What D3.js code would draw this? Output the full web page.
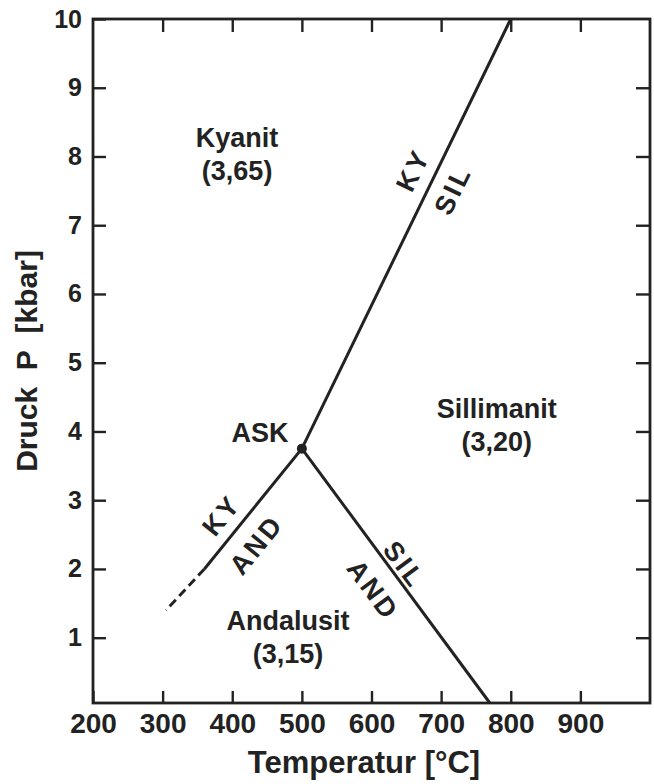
<!DOCTYPE html>
<html>
<head>
<meta charset="utf-8">
<script src="https://cdn.jsdelivr.net/npm/d3@7"></script>
<style>
  html, body { margin: 0; padding: 0; background: #fff; }
  svg { display: block; }
  text { font-family: "Liberation Sans", Arial, Helvetica, sans-serif; fill: #222; }
</style>
</head>
<body>
<svg id="chart" width="654" height="784"></svg>
<script>
// ---- data (temperature °C, pressure kbar) ----
const xTicks = [200, 300, 400, 500, 600, 700, 800, 900];
const yTicks = [1, 2, 3, 4, 5, 6, 7, 8, 9, 10];
const triplePoint = [500, 3.75];
const kySilLine = [[500, 3.75], [800, 10]];
const andSilLine = [[500, 3.75], [770, 0.05]];
const kyAndSolid = [[500, 3.75], [360, 2.0]];
const kyAndDashed = [[360, 2.0], [305, 1.4]];
const regionLabels = [
  { name: "Kyanit", density: "(3,65)", T: 407, P: 8.14 },
  { name: "Sillimanit", density: "(3,20)", T: 780, P: 4.2 },
  { name: "Andalusit", density: "(3,15)", T: 480, P: 1.11 }
];
const pointLabel = { text: "ASK", T: 440, P: 3.85 };
const lineLabels = [
  { text: "KY", T: 660, P: 7.8, line: kySilLine },
  { text: "SIL", T: 717, P: 7.51, line: kySilLine },
  { text: "KY", T: 385, P: 2.78, line: kyAndSolid, rev: true },
  { text: "AND", T: 435, P: 2.35, line: kyAndSolid, rev: true },
  { text: "SIL", T: 647, P: 2.06, line: andSilLine },
  { text: "AND", T: 602, P: 1.69, line: andSilLine }
];

// ---- layout ----
const svg = d3.select("#chart");
const ink = "#222";
const x = d3.scaleLinear().domain([200, 1000]).range([93, 650]);
const y = d3.scaleLinear().domain([0.05, 10]).range([703, 19]);

// frame
svg.append("rect")
  .attr("x", x(200)).attr("y", y(10))
  .attr("width", x(1000) - x(200)).attr("height", y(0.05) - y(10))
  .attr("fill", "none").attr("stroke", ink).attr("stroke-width", 2.8);

function styleAxis(g) {
  g.select(".domain").remove();
  g.selectAll(".tick line").attr("stroke", ink).attr("stroke-width", 2.4);
  g.selectAll(".tick text").attr("fill", ink).style("font-weight", "bold");
}

// bottom axis
svg.append("g")
  .attr("transform", `translate(0,${y(0.05)})`)
  .call(d3.axisBottom(x).tickValues(xTicks).tickSize(-12).tickPadding(10).tickFormat(d3.format("d")))
  .call(styleAxis)
  .call(g => g.selectAll(".tick text").style("font-size", "28px").attr("letter-spacing", "0px"));

// top axis
svg.append("g")
  .attr("transform", `translate(0,${y(10)})`)
  .call(d3.axisTop(x).tickValues(xTicks.slice(1)).tickSize(-13).tickFormat(""))
  .call(styleAxis);

// left axis
svg.append("g")
  .attr("transform", `translate(${x(200)},0)`)
  .call(d3.axisLeft(y).tickValues(yTicks).tickSize(-13).tickPadding(11).tickFormat(d3.format("d")))
  .call(styleAxis)
  .call(g => g.selectAll(".tick text").style("font-size", "25px"));

// right axis
svg.append("g")
  .attr("transform", `translate(${x(1000)},0)`)
  .call(d3.axisRight(y).tickValues(yTicks.slice(0, -1)).tickSize(-14).tickFormat(""))
  .call(styleAxis);

// axis titles
svg.append("text")
  .attr("x", 364).attr("y", 773)
  .attr("text-anchor", "middle")
  .style("font-size", "31px").style("font-weight", "bold")
  .text("Temperatur [°C]");

svg.append("text")
  .attr("transform", `translate(37,361) rotate(-90)`)
  .attr("text-anchor", "middle")
  .style("font-size", "30px").style("font-weight", "bold")
  .text("Druck\u00a0 P\u00a0 [kbar]");

// phase boundaries
const line = d3.line().x(d => x(d[0])).y(d => y(d[1]));
[kySilLine, andSilLine, kyAndSolid].forEach(seg => {
  svg.append("path").attr("d", line(seg))
    .attr("fill", "none").attr("stroke", ink).attr("stroke-width", 3);
});
svg.append("path").attr("d", line(kyAndDashed))
  .attr("fill", "none").attr("stroke", ink).attr("stroke-width", 3)
  .attr("stroke-dasharray", "9,5");

// triple point
svg.append("circle")
  .attr("cx", x(triplePoint[0])).attr("cy", y(triplePoint[1]))
  .attr("r", 5).attr("fill", ink);

// region labels
regionLabels.forEach(r => {
  const t = svg.append("text")
    .attr("x", x(r.T)).attr("y", y(r.P))
    .attr("text-anchor", "middle")
    .style("font-size", "27px").style("font-weight", "bold");
  t.append("tspan").attr("x", x(r.T)).text(r.name);
  t.append("tspan").attr("x", x(r.T)).attr("dy", 33).text(r.density);
});

svg.append("text")
  .attr("x", x(pointLabel.T)).attr("y", y(pointLabel.P))
  .attr("text-anchor", "middle")
  .style("font-size", "27px").style("font-weight", "bold")
  .text(pointLabel.text);

// labels along boundaries
lineLabels.forEach(l => {
  const [a, b] = l.line;
  let dx = x(b[0]) - x(a[0]), dy = y(b[1]) - y(a[1]);
  if (l.rev) { dx = -dx; dy = -dy; }
  const ang = Math.atan2(dy, dx) * 180 / Math.PI;
  svg.append("text")
    .attr("transform", `translate(${x(l.T)},${y(l.P)}) rotate(${ang})`)
    .attr("text-anchor", "middle")
    .attr("dominant-baseline", "central")
    .attr("letter-spacing", "3px")
    .style("font-size", "27px").style("font-weight", "bold")
    .text(l.text);
});
</script>
</body>
</html>
